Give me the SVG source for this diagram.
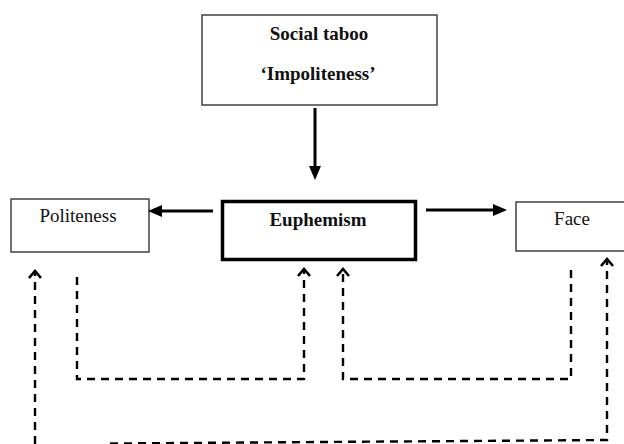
<svg xmlns="http://www.w3.org/2000/svg" width="624" height="444" viewBox="0 0 624 444">
  <style>
    .box { fill: #fff; stroke: #333; stroke-width: 1.4; }
    .main { fill: #fff; stroke: #000; stroke-width: 3.5; }
    .t { font-family: "Liberation Serif", "Times New Roman", serif; font-size: 19px; fill: #111; text-anchor: middle; }
    .b { font-weight: bold; }
    .solid { stroke: #000; stroke-width: 3; fill: none; }
    .dash { stroke: #000; stroke-width: 2.4; fill: none; stroke-dasharray: 8 6; }
  </style>
  <defs>
    <marker id="head" markerUnits="userSpaceOnUse" viewBox="0 0 14 14" refX="4" refY="7" markerWidth="14" markerHeight="14" orient="auto">
      <path d="M0,1 L14,7 L0,13 z" fill="#000"/>
    </marker>
    <marker id="chev" markerUnits="userSpaceOnUse" viewBox="-2 -2 12 16" refX="7" refY="6" markerWidth="12" markerHeight="16" orient="auto">
      <path d="M0,0 L7,6 L0,12" fill="none" stroke="#000" stroke-width="2.6"/>
    </marker>
  </defs>

  <g id="social-taboo">
    <rect class="box" x="202" y="15" width="235" height="90"/>
    <text class="t b" x="319" y="40">Social taboo</text>
    <text class="t b" x="318" y="80">‘Impoliteness’</text>
  </g>
  <g id="euphemism">
    <rect class="main" x="222.5" y="201.5" width="193" height="58"/>
    <text class="t b" x="318" y="226">Euphemism</text>
  </g>
  <g id="politeness">
    <rect class="box" x="11" y="199" width="138" height="53"/>
    <text class="t" x="78" y="222">Politeness</text>
  </g>
  <g id="face">
    <rect class="box" x="516" y="202" width="120" height="49"/>
    <text class="t" x="572" y="225">Face</text>
  </g>

  <g id="connectors">
    <path class="solid" d="M315,108 V170" marker-end="url(#head)"/>
    <path class="solid" d="M213,211 H158" marker-end="url(#head)"/>
    <path class="solid" d="M426,210 H497" marker-end="url(#head)"/>
    <path class="dash" d="M77,277 V379 H304 V269" marker-end="url(#chev)"/>
    <path class="dash" d="M571,270 V379 H343 V269" marker-end="url(#chev)"/>
    <path class="dash" d="M35,444 V271" marker-end="url(#chev)"/>
    <path class="dash" d="M110,443.5 L607,440 V259" marker-end="url(#chev)"/>
  </g>
</svg>
